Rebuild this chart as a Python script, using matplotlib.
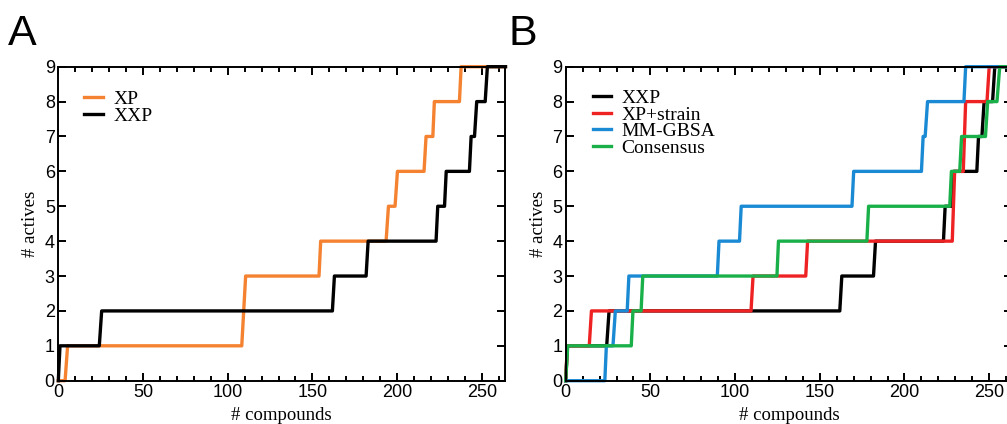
import matplotlib
matplotlib.use("Agg")
import matplotlib.pyplot as plt
from matplotlib.ticker import MultipleLocator

# === Data (cumulative actives vs. ranked compounds, step vertices) ===
xp_x = [0, 4, 5.5, 108.3, 110.6, 153.9, 154.9, 193.5, 194.9, 198.8, 200.2,
        215.9, 217.1, 221.1, 222.0, 236.8, 237.8, 264]
xp_y = [0, 0, 1, 1, 3, 3, 4, 4, 5, 5, 6, 6, 7, 7, 8, 8, 9, 9]

xxp_x = [0, 1, 24.2, 25.6, 161.8, 163.0, 181.7, 182.9, 223.0, 224.0, 228.0, 229.0,
         242.7, 243.7, 245.7, 247.0, 252.0, 253.3, 264]
xxp_y = [0, 1, 1, 2, 2, 3, 3, 4, 4, 5, 5, 6, 6, 7, 7, 8, 8, 9, 9]

strain_x = [0, 1, 13.9, 15.2, 109.4, 110.6, 141.7, 142.8, 228.2, 229.6, 234.7, 236.1,
            248.7, 250.0, 264]
strain_y = [0, 1, 1, 2, 2, 3, 3, 4, 4, 6, 6, 8, 8, 9, 9]

gbsa_x = [0, 23.1, 24.0, 27.9, 29.3, 36.3, 37.3, 89.5, 90.5, 102.6, 103.6, 169.0, 170.0,
          210.0, 211.0, 212.2, 213.6, 235.1, 236.1, 264]
gbsa_y = [0, 0, 1, 1, 2, 2, 3, 3, 4, 4, 5, 5, 6, 6, 7, 7, 8, 8, 9, 9]

cons_x = [0, 1.2, 38.7, 39.7, 44.5, 45.5, 124.7, 125.6, 177.8, 178.8, 226.7, 227.7,
          232.6, 233.7, 247.8, 249.1, 254.6, 256.2, 264]
cons_y = [0, 1, 1, 2, 2, 3, 3, 4, 4, 5, 5, 6, 6, 7, 7, 8, 8, 9, 9]

ORANGE = "#f58231"
RED = "#ee2222"
BLUE = "#1a8ad4"
GREEN = "#19b04a"

SANS = ["Liberation Sans", "DejaVu Sans"]
SERIF = ["Liberation Serif", "DejaVu Serif"]

W, H = 1007, 424
fig = plt.figure(figsize=(W / 100, H / 100), dpi=100)

ax_w = 446.7 / W
ax_h = 314.0 / H
ax_b = (H - 380.7) / H
axA = fig.add_axes([58.3 / W, ax_b, ax_w, ax_h])
axB = fig.add_axes([565.7 / W, ax_b, ax_w, ax_h])

lw = 2.4


def style_axes(ax):
    ax.set_xlim(0, 263.7)
    ax.set_ylim(0, 9)
    ax.xaxis.set_major_locator(MultipleLocator(50))
    ax.xaxis.set_minor_locator(MultipleLocator(10))
    ax.yaxis.set_major_locator(MultipleLocator(1))
    ax.tick_params(which="both", direction="in", top=True, right=True,
                   width=1.4, colors="black")
    ax.tick_params(which="major", length=5.8, labelsize=13, pad=2.5)
    ax.tick_params(which="minor", length=3.4)
    for lab in ax.get_xticklabels() + ax.get_yticklabels():
        lab.set_family(SANS)
    for sp in ax.spines.values():
        sp.set_linewidth(1.4)
    ax.set_xlabel("# compounds", family=SERIF, fontsize=13.5, labelpad=4)
    ax.set_ylabel("# actives", family=SERIF, fontsize=13.5, labelpad=4)


# Panel A
axA.plot(xp_x, xp_y, color=ORANGE, lw=lw, label="XP", clip_on=False)
axA.plot(xxp_x, xxp_y, color="black", lw=lw, label="XXP", clip_on=False)
style_axes(axA)
axA.legend(loc="upper left", bbox_to_anchor=(0.058, 0.925), frameon=False,
           prop={"family": SERIF, "size": 14}, handlelength=0.95,
           handletextpad=0.55, labelspacing=-0.02, borderpad=0, borderaxespad=0)

# Panel B
axB.plot(xxp_x, xxp_y, color="black", lw=lw, label="XXP", clip_on=False)
axB.plot(strain_x, strain_y, color=RED, lw=lw, label="XP+strain", clip_on=False)
axB.plot(gbsa_x, gbsa_y, color=BLUE, lw=lw, label="MM-GBSA", clip_on=False)
axB.plot(cons_x, cons_y, color=GREEN, lw=lw, label="Consensus", clip_on=False)
style_axes(axB)
axB.legend(loc="upper left", bbox_to_anchor=(0.06, 0.928), frameon=False,
           prop={"family": SERIF, "size": 14}, handlelength=0.95,
           handletextpad=0.55, labelspacing=-0.05, borderpad=0, borderaxespad=0)

# Panel letters
fig.text(8 / W, 1 - 45 / H, "A", family=SANS, fontsize=31)
fig.text(509 / W, 1 - 45 / H, "B", family=SANS, fontsize=31)

fig.savefig("out.png", dpi=100)
